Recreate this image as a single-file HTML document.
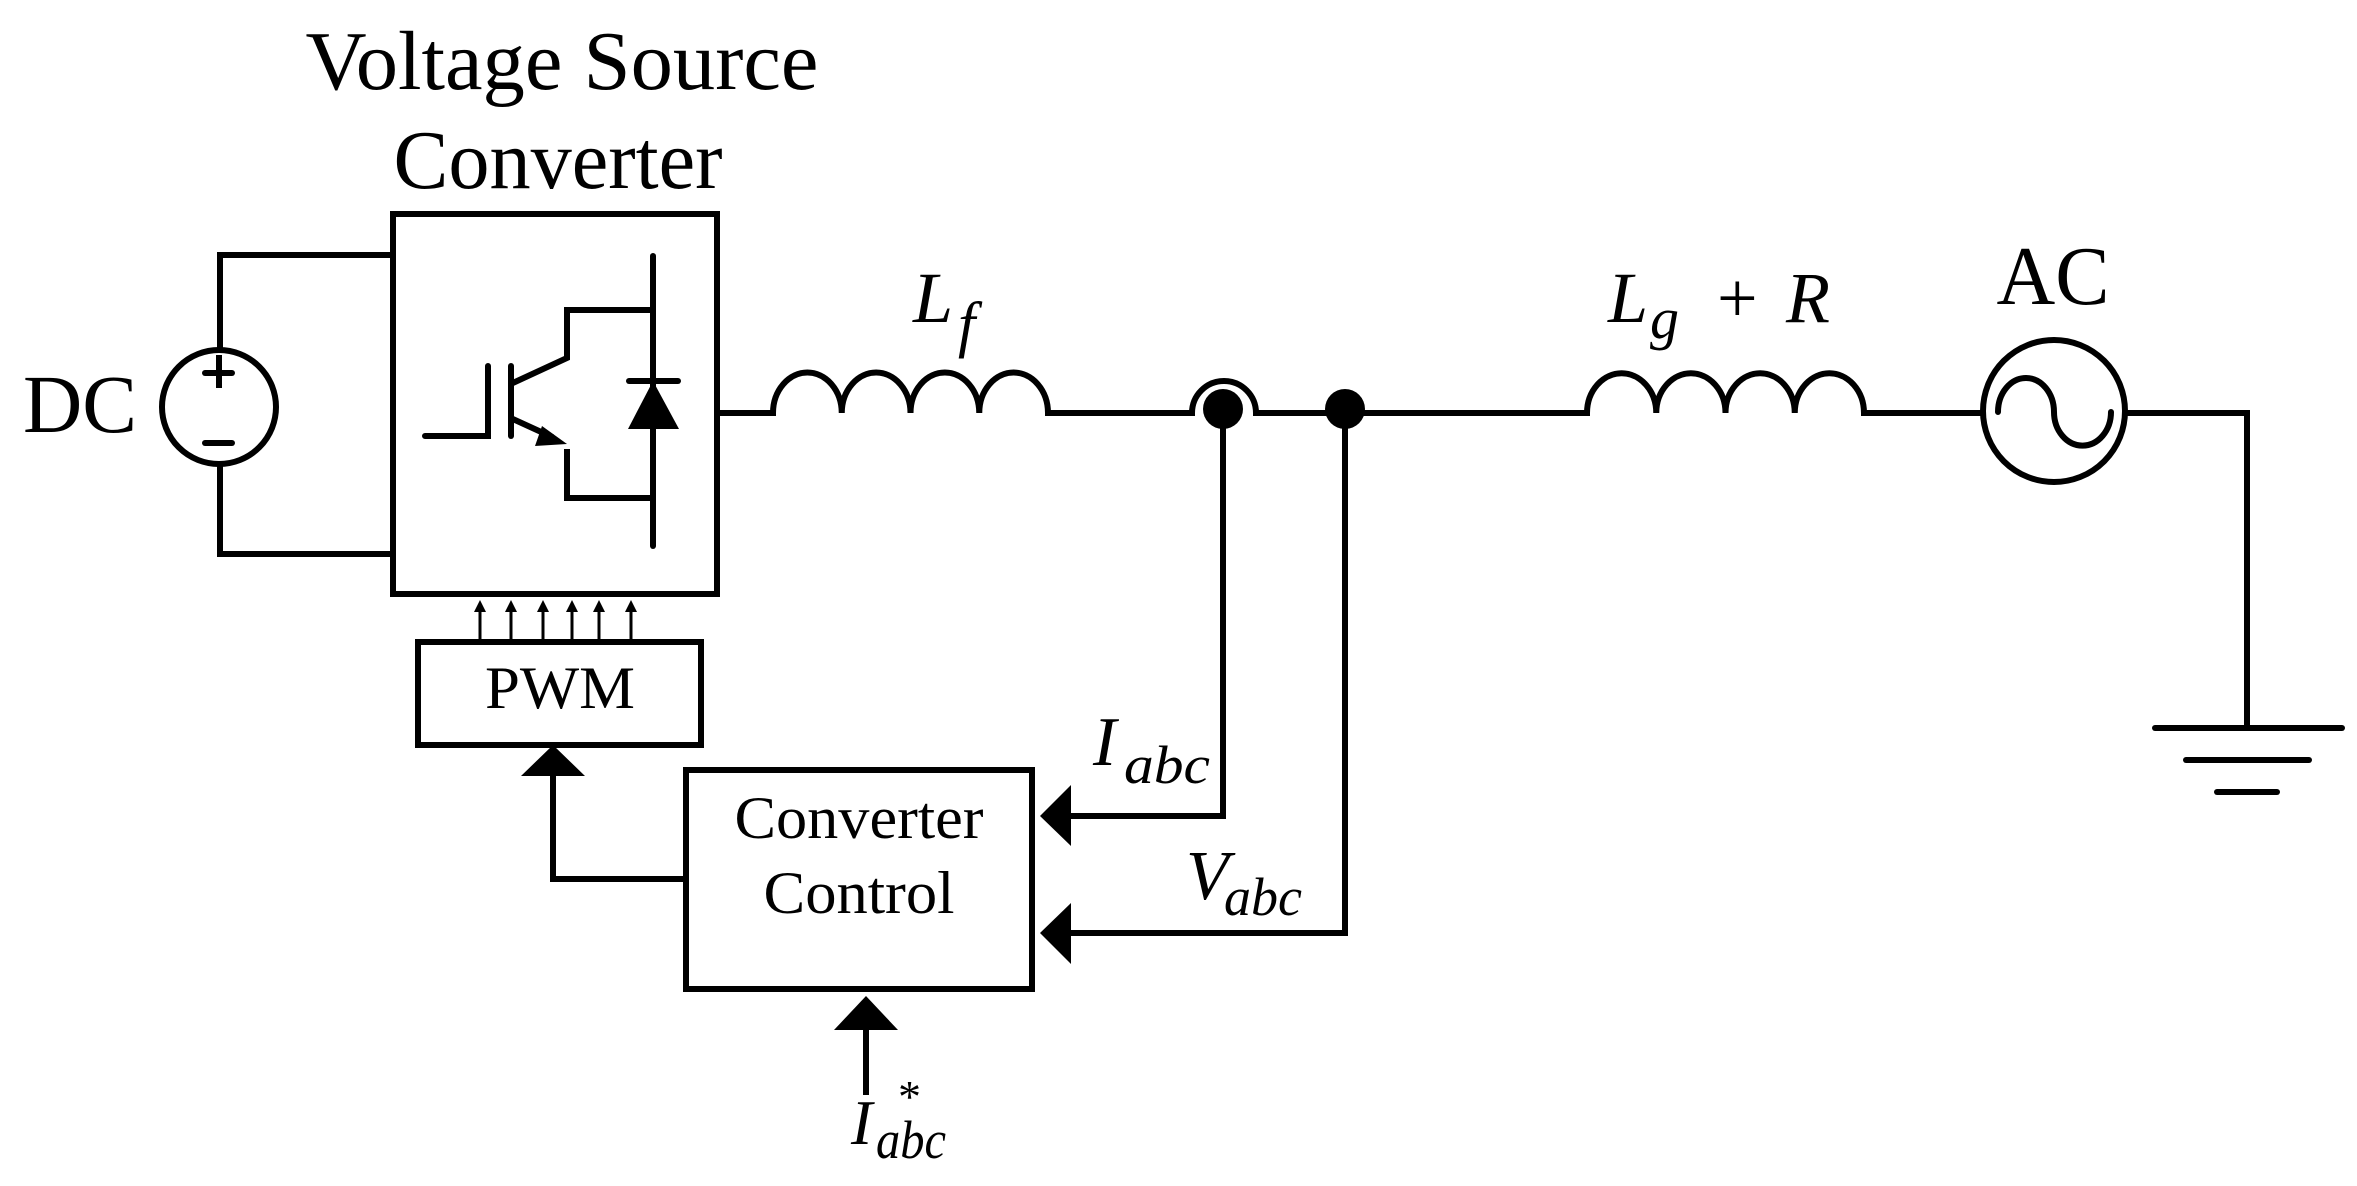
<!DOCTYPE html>
<html><head><meta charset="utf-8"><style>
html,body{margin:0;padding:0;background:#fff;}
svg{display:block;}
text{font-family:"Liberation Serif",serif;fill:#000;}
</style></head><body>
<svg width="2357" height="1186" viewBox="0 0 2357 1186" xmlns="http://www.w3.org/2000/svg">
<g fill="none" stroke="#000" stroke-width="6" stroke-linecap="square">
<!-- DC source -->
<polyline points="393,255 220,255 220,349"/>
<polyline points="393,554 220,554 220,465"/>
<circle cx="219" cy="407" r="57"/>
<line x1="205" y1="373" x2="232" y2="373" stroke-linecap="round"/>
<line x1="219" y1="358" x2="219" y2="385"/>
<line x1="205" y1="443" x2="232" y2="443" stroke-linecap="round"/>
<!-- VSC box -->
<rect x="393" y="214" width="324" height="380"/>
<!-- IGBT -->
<polyline points="425,436 488,436 488,366" stroke-linecap="round"/>
<line x1="511" y1="366" x2="511" y2="436" stroke-linecap="round"/>
<polyline points="515,382 567,358 567,310 653,310"/>
<line x1="515" y1="420" x2="550" y2="436"/>
<polyline points="567,452 567,498 653,498"/>
<line x1="653" y1="256" x2="653" y2="546" stroke-linecap="round"/>
<line x1="629" y1="381" x2="678" y2="381" stroke-linecap="round"/>
<!-- output + Lf -->
<line x1="717" y1="413" x2="773" y2="413"/>
<path d="M773,413 A34,40 0 0 1 841.75,413 A34,40 0 0 1 910.5,413 A34,40 0 0 1 979.25,413 A34,40 0 0 1 1048,413"/>
<line x1="1048" y1="413" x2="1192" y2="413"/>
<path d="M1192,413 A32,32 0 0 1 1256,413"/>
<line x1="1256" y1="413" x2="1587" y2="413"/>
<path d="M1587,413 A34,39 0 0 1 1656.25,413 A34,39 0 0 1 1725.5,413 A34,39 0 0 1 1794.75,413 A34,39 0 0 1 1864,413"/>
<line x1="1864" y1="413" x2="1982" y2="413"/>
<!-- AC source -->
<circle cx="2054" cy="411" r="71"/>
<path d="M1998,412 A28,34 0 0 1 2054,412 A28,33 0 0 0 2111,412" stroke-linecap="round"/>
<polyline points="2127,413 2247,413 2247,728"/>
<line x1="2155" y1="728" x2="2342" y2="728" stroke-linecap="round"/>
<line x1="2186" y1="760" x2="2309" y2="760" stroke-linecap="round"/>
<line x1="2217" y1="792" x2="2277" y2="792" stroke-linecap="round"/>
<!-- measurement lines -->
<polyline points="1223,413 1223,816 1066,816"/>
<polyline points="1345,413 1345,933 1066,933"/>
<!-- PWM box -->
<rect x="418" y="642" width="283" height="103"/>
<!-- CC box -->
<rect x="686" y="770" width="346" height="219"/>
<polyline points="686,879 553,879 553,775"/>
<line x1="866" y1="1092" x2="866" y2="1028"/>
</g>
<!-- filled shapes -->
<g fill="#000" stroke="none">
<polygon points="567,444 542,426 535,446"/>
<polygon points="653,381 628,429 679,429"/>
<circle cx="1223" cy="409" r="20"/>
<circle cx="1345" cy="409" r="20"/>
<polygon points="553,745 521,776 585,776"/>
<polygon points="1040,816 1071,785 1071,846"/>
<polygon points="1040,933 1071,903 1071,964"/>
<polygon points="866,996 834,1030 898,1030"/>
</g>
<!-- PWM arrows -->
<g stroke="#000" stroke-width="3">
<line x1="480" y1="610" x2="480" y2="642"/>
<line x1="511" y1="610" x2="511" y2="642"/>
<line x1="543" y1="610" x2="543" y2="642"/>
<line x1="572" y1="610" x2="572" y2="642"/>
<line x1="599" y1="610" x2="599" y2="642"/>
<line x1="631" y1="610" x2="631" y2="642"/>
</g>
<g fill="#000">
<polygon points="480,600 474,612 486,612"/>
<polygon points="511,600 505,612 517,612"/>
<polygon points="543,600 537,612 549,612"/>
<polygon points="572,600 566,612 578,612"/>
<polygon points="599,600 593,612 605,612"/>
<polygon points="631,600 625,612 637,612"/>
</g>
<!-- text -->
<text x="562" y="89" font-size="84" text-anchor="middle" textLength="513" lengthAdjust="spacingAndGlyphs">Voltage Source</text>
<text x="558" y="188" font-size="84" text-anchor="middle" textLength="329" lengthAdjust="spacingAndGlyphs">Converter</text>
<text x="23" y="432" font-size="83" textLength="114" lengthAdjust="spacingAndGlyphs">DC</text>
<text x="2053" y="304" font-size="84" text-anchor="middle" textLength="113" lengthAdjust="spacingAndGlyphs">AC</text>
<text x="913" y="322" font-size="72" font-style="italic">L</text>
<text x="958" y="345" font-size="62" font-style="italic">f</text>
<text x="1608" y="322" font-size="72" font-style="italic">L</text>
<text x="1650" y="338" font-size="58" font-style="italic">g</text>
<text x="1717" y="322" font-size="72">+</text>
<text x="1786" y="322" font-size="72" font-style="italic">R</text>
<text x="560" y="708" font-size="60" text-anchor="middle" textLength="150" lengthAdjust="spacingAndGlyphs">PWM</text>
<text x="859" y="838" font-size="60" text-anchor="middle" textLength="249" lengthAdjust="spacingAndGlyphs">Converter</text>
<text x="859" y="913" font-size="60" text-anchor="middle" textLength="191" lengthAdjust="spacingAndGlyphs">Control</text>
<text x="1093" y="765" font-size="70" font-style="italic">I</text>
<text x="1124" y="783" font-size="54" font-style="italic" textLength="86" lengthAdjust="spacingAndGlyphs">abc</text>
<text x="1186" y="899" font-size="70" font-style="italic">V</text>
<text x="1224" y="915" font-size="54" font-style="italic" textLength="78" lengthAdjust="spacingAndGlyphs">abc</text>
<text x="851" y="1144" font-size="64" font-style="italic">I</text>
<text x="898" y="1112" font-size="46">*</text>
<text x="876" y="1158" font-size="54" font-style="italic" textLength="70" lengthAdjust="spacingAndGlyphs">abc</text>
</svg>
</body></html>
